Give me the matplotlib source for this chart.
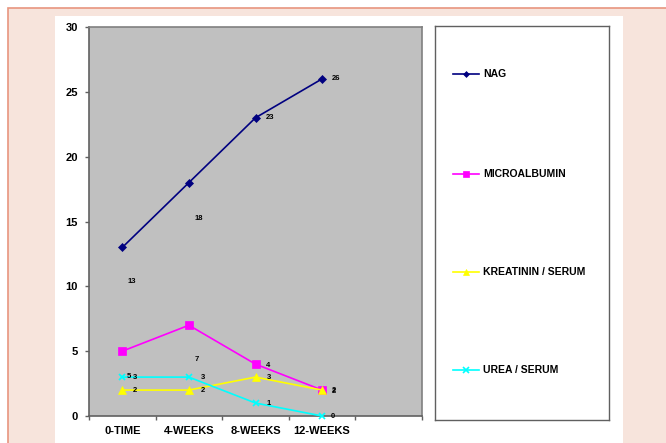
import matplotlib
matplotlib.use('Agg')
import matplotlib.pyplot as plt
from matplotlib.patches import Rectangle

plt.rcParams['font.family'] = ['Liberation Sans', 'DejaVu Sans']
plt.rcParams['font.weight'] = 'bold'

# data
categories = ["0-TIME", "4-WEEKS", "8-WEEKS", "12-WEEKS"]
nag = [13, 18, 23, 26]
microalbumin = [5, 7, 4, 2]
kreatinin = [2, 2, 3, 2]
urea = [3, 3, 1, 0]
y_ticks = [0, 5, 10, 15, 20, 25, 30]

series = [
    ("NAG", nag, "#000080", "D", 4),
    ("MICROALBUMIN", microalbumin, "#FF00FF", "s", 6),
    ("KREATININ / SERUM", kreatinin, "#FFFF00", "^", 6),
    ("UREA / SERUM", urea, "#00FFFF", "x", 5),
]

# where excel dropped the data labels (pixel offsets from the point)
label_offsets = {
    "NAG": [(9, -34), (10, -36), (15, 0), (14, 0)],
    "MICROALBUMIN": [(7, -25), (8, -34), (13, -1), (12, -1)],
    "KREATININ / SERUM": [(13, 0), (14, 0), (13, 0), (12, 0)],
    "UREA / SERUM": [(13, 0), (14, 0), (13, 0), (11, 0)],
}

fig = plt.figure(figsize=(6.66, 4.43), dpi=100)
fig.patch.set_facecolor("white")

# peach page background with salmon border, white chart panel on top
W, H = 666.0, 443.0
fig.patches.append(Rectangle((8 / W, -0.05), 1, (H - 8) / H + 0.05, transform=fig.transFigure,
                             facecolor="#F7E4DC", edgecolor="#E8957F", linewidth=1.2, zorder=-2))
fig.patches.append(Rectangle((55 / W, -0.05), (623 - 55) / W, (H - 16) / H + 0.05, transform=fig.transFigure,
                             facecolor="white", edgecolor="none", zorder=-1))

ax = fig.add_axes([89 / W, (H - 416) / H, (422 - 89) / W, (416 - 27) / H])
ax.set_facecolor("#C0C0C0")

x = list(range(len(categories)))
for name, vals, col, mk, ms in series:
    ax.plot(x, vals, color=col, marker=mk, markersize=ms, linewidth=1.2,
            markeredgewidth=1.2 if mk == "x" else 0.5, markeredgecolor=col, clip_on=False, zorder=3)
    for xi, v, off in zip(x, vals, label_offsets[name]):
        ax.annotate(str(v), (xi, v), xytext=off, textcoords="offset pixels",
                    ha="center", va="center", fontsize=5.5, fontweight="bold", color="black", zorder=4)

ax.set_xlim(-0.5, 4.5)
ax.set_ylim(0, 30)
ax.set_yticks(y_ticks)
ax.set_yticklabels([str(t) for t in y_ticks], fontsize=8, fontweight="bold")
ax.set_xticks([i - 0.5 for i in range(6)])
ax.set_xticklabels([])
ax.set_xticks(x, minor=True)
ax.set_xticklabels(categories, minor=True, fontsize=8, fontweight="bold")
ax.tick_params(axis="x", which="minor", length=0, pad=7)
ax.tick_params(axis="x", which="major", length=3, width=1, color="#606060", direction="out")
ax.tick_params(axis="y", length=3, width=1, color="#606060", direction="out", pad=5)

for s in ["left", "bottom"]:
    ax.spines[s].set_color("#606060")
    ax.spines[s].set_linewidth(1.2)
for s in ["top", "right"]:
    ax.spines[s].set_color("#808080")
    ax.spines[s].set_linewidth(1.2)

# legend box drawn as its own axes, entries spread out like the excel one
lax = fig.add_axes([435 / W, (H - 420) / H, (609 - 435) / W, (420 - 26) / H])
lax.set_xlim(0, 1)
lax.set_ylim(0, 1)
lax.set_xticks([])
lax.set_yticks([])
for s in lax.spines.values():
    s.set_color("#606060")
    s.set_linewidth(1.0)
entry_y = [0.878, 0.624, 0.376, 0.127]
for (name, vals, col, mk, ms), yy in zip(series, entry_y):
    lax.plot([0.103, 0.253], [yy, yy], color=col, linewidth=1.2)
    lax.plot([0.178], [yy], color=col, marker=mk, markersize=ms - 1,
             markeredgewidth=1.2 if mk == "x" else 0.5, markeredgecolor=col)
    lax.text(0.276, yy, name, fontsize=7.5, fontweight="bold", va="center", ha="left")

fig.savefig("out.png", dpi=100)
